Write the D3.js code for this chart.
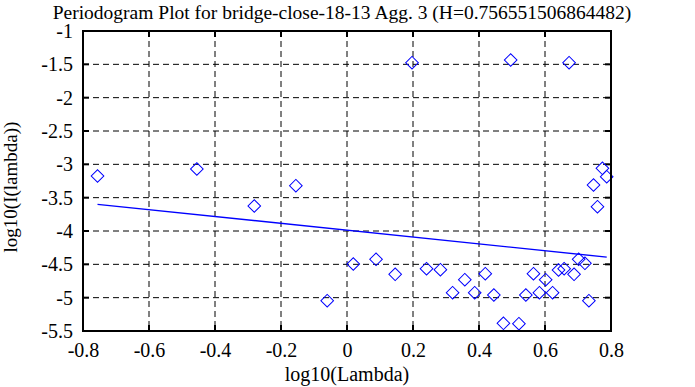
<!DOCTYPE html>
<html><head><meta charset="utf-8">
<script src="https://cdn.jsdelivr.net/npm/d3@7/dist/d3.min.js"></script>
<style>body{margin:0;background:#fff}svg{display:block}text{font-family:"Liberation Serif","Times New Roman",Times,serif;fill:#000}</style>
</head><body><svg id="c" width="695" height="387"></svg>
<script>
const titleText = "Periodogram Plot for bridge-close-18-13 Agg. 3 (H=0.756551506864482)";
const xTicks = [-0.8,-0.6,-0.4,-0.2,0,0.2,0.4,0.6,0.8];
const xTickLabels = ["-0.8","-0.6","-0.4","-0.2","0","0.2","0.4","0.6","0.8"];
const yTicks = [-1,-1.5,-2,-2.5,-3,-3.5,-4,-4.5,-5,-5.5];
const yTickLabels = ["-1","-1.5","-2","-2.5","-3","-3.5","-4","-4.5","-5","-5.5"];
const pointsX = [-0.756,-0.455,-0.281,-0.155,-0.060,0.019,0.088,0.146,0.197,0.241,0.283,0.320,0.357,0.387,0.419,0.445,0.474,0.496,0.521,0.542,0.565,0.583,0.602,0.623,0.641,0.658,0.673,0.688,0.702,0.721,0.733,0.747,0.759,0.774,0.787];
const pointsY = [-3.175,-3.07,-3.625,-3.32,-5.045,-4.495,-4.425,-4.65,-1.475,-4.565,-4.58,-4.925,-4.73,-4.925,-4.64,-4.96,-5.385,-1.435,-5.39,-4.96,-4.64,-4.925,-4.73,-4.925,-4.585,-4.565,-1.475,-4.65,-4.425,-4.485,-5.045,-3.31,-3.635,-3.06,-3.185];
const lineX = [-0.756,0.787];
const lineY = [-3.600,-4.392];

const svg = d3.select("#c");
const L=83, R=611, T=31, B=331;
const x = d3.scaleLinear().domain([-0.8,0.8]).range([L,R]);
const y = d3.scaleLinear().domain([-5.5,-1]).range([B,T]);

// grid
const g = svg.append("g");
g.selectAll("line.vg").data(xTicks.slice(1,-1)).join("line")
 .attr("x1",d=>x(d)).attr("x2",d=>x(d)).attr("y1",T).attr("y2",B)
 .attr("stroke","#000").attr("stroke-width",1).attr("stroke-dasharray","6,4");
g.selectAll("line.hg").data(yTicks.slice(1,-1)).join("line")
 .attr("y1",d=>y(d)).attr("y2",d=>y(d)).attr("x1",L).attr("x2",R)
 .attr("stroke","#000").attr("stroke-width",1).attr("stroke-dasharray","6,4");

// axes with labels
const xAxis = d3.axisBottom(x).tickValues(xTicks).tickFormat((d,i)=>xTickLabels[i]).tickSize(0).tickPadding(12);
const ax = svg.append("g").attr("transform",`translate(0,${B})`).call(xAxis);
ax.select(".domain").remove();
ax.attr("font-size",20).attr("font-family",null);
const yAxis = d3.axisLeft(y).tickValues(yTicks).tickFormat((d,i)=>yTickLabels[i]).tickSize(0).tickPadding(10);
const ay = svg.append("g").attr("transform",`translate(${L},0)`).call(yAxis);
ay.select(".domain").remove();
ay.attr("font-size",20).attr("font-family",null);

// inner tick marks
const tk = svg.append("g").attr("stroke","#000").attr("stroke-width",2);
xTicks.forEach(d=>{
  tk.append("line").attr("x1",x(d)).attr("x2",x(d)).attr("y1",T).attr("y2",T+6);
  tk.append("line").attr("x1",x(d)).attr("x2",x(d)).attr("y1",B).attr("y2",B-6);
});
yTicks.forEach(d=>{
  tk.append("line").attr("y1",y(d)).attr("y2",y(d)).attr("x1",L).attr("x2",L+6);
  tk.append("line").attr("y1",y(d)).attr("y2",y(d)).attr("x1",R).attr("x2",R-6);
});

// regression line
svg.append("path").datum(lineX.map((v,i)=>[v,lineY[i]]))
 .attr("d",d3.line().x(d=>x(d[0])).y(d=>y(d[1])))
 .attr("stroke","#0000ff").attr("stroke-width",1.4).attr("fill","none");

// points
const sym = d3.symbol().type(d3.symbolSquare).size(80);
svg.selectAll("path.pt").data(pointsX.map((v,i)=>[v,pointsY[i]])).join("path")
 .attr("class","pt").attr("d",sym())
 .attr("transform",d=>`translate(${x(d[0])},${y(d[1])}) rotate(45)`)
 .attr("fill","none").attr("stroke","#0000ff").attr("stroke-width",1);

// border
svg.append("rect").attr("x",L).attr("y",T).attr("width",R-L).attr("height",B-T)
 .attr("fill","none").attr("stroke","#000").attr("stroke-width",2);

// titles
svg.append("text").attr("x",342).attr("y",18.5).attr("text-anchor","middle").attr("font-size",19.5).text(titleText);
svg.append("text").attr("x",347).attr("y",381).attr("text-anchor","middle").attr("font-size",20).text("log10(Lambda)");
svg.append("text").attr("transform","translate(17,187) rotate(-90)").attr("text-anchor","middle").attr("font-size",19).text("log10(I(lambda))");
</script></body></html>
